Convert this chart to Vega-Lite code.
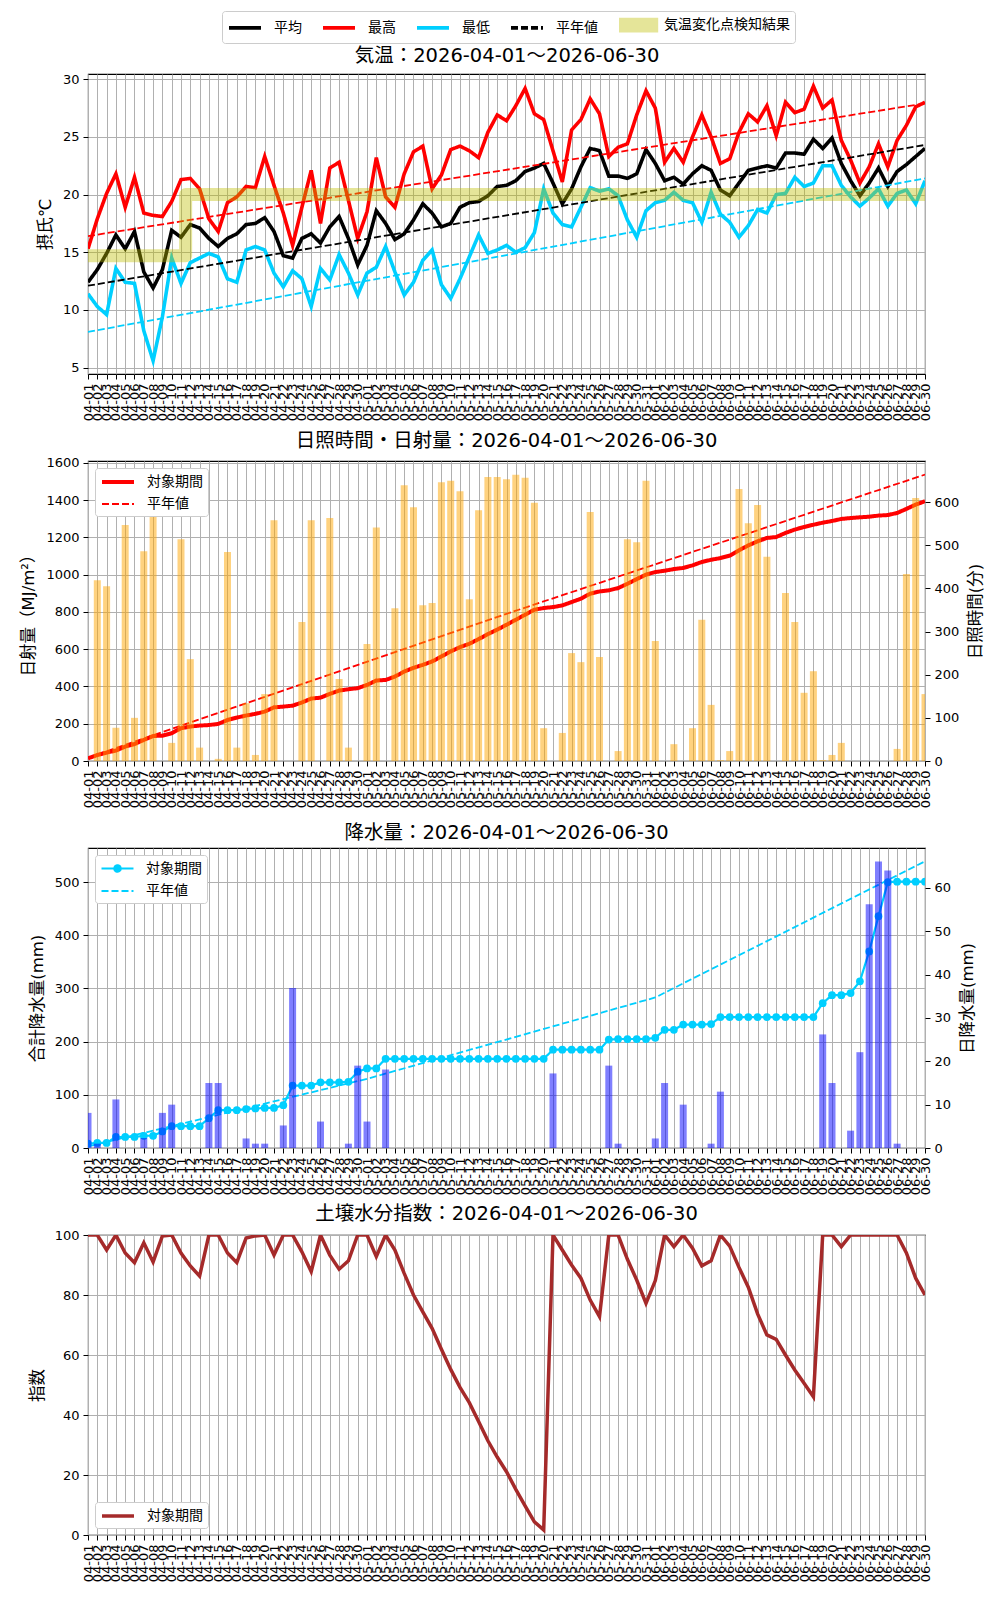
{
"$schema": "https://vega.github.io/schema/vega-lite/v6.json",
"background": "white",
"padding": {"left": 20, "top": 9, "right": 5, "bottom": 5},
"config": {
  "font": "DejaVu Sans, Noto Sans CJK JP",
  "view": {"stroke": "#000000", "strokeWidth": 1.1},
  "axis": {"labelFontSize": 13, "titleFontSize": 16.5, "titleFontWeight": "normal", "labelColor": "#000000", "titleColor": "#000000", "tickColor": "#000000", "tickSize": 5, "tickWidth": 1, "domain": false, "gridColor": "#b0b0b0", "gridWidth": 1, "gridOpacity": 1, "labelPadding": 4, "titlePadding": 9},
  "legend": {"labelFontSize": 14, "labelColor": "#000000", "fillColor": "#ffffff", "strokeColor": "#cccccc", "cornerRadius": 3, "padding": 5, "rowPadding": 6, "offset": 7},
  "title": {"fontSize": 19.5, "fontWeight": "normal", "color": "#000000", "offset": 5, "frame": "group"}
},
"datasets": {
  "days": [
{"d":"04-01","期間":"対象期間","平均":12.4,"最高":15.3,"最低":11.4,"sun":0,"rad":14,"prcp":8.1,"cprcp":8.1,"soil":100},
{"d":"04-02","期間":"対象期間","平均":13.5,"最高":17.9,"最低":10.3,"sun":419,"rad":32,"prcp":1.0,"cprcp":9.5,"soil":100},
{"d":"04-03","期間":"対象期間","平均":14.9,"最高":20.1,"最低":9.6,"sun":405,"rad":45,"prcp":0,"cprcp":9.5,"soil":95},
{"d":"04-04","期間":"対象期間","平均":16.5,"最高":21.8,"最低":13.6,"sun":77,"rad":56,"prcp":11.2,"cprcp":20.7,"soil":100},
{"d":"04-05","期間":"対象期間","平均":15.3,"最高":18.9,"最低":12.4,"sun":547,"rad":77,"prcp":0,"cprcp":20.7,"soil":94},
{"d":"04-06","期間":"対象期間","平均":16.8,"最高":21.5,"最低":12.3,"sun":100,"rad":91,"prcp":0,"cprcp":20.7,"soil":90.8},
{"d":"04-07","期間":"対象期間","平均":13.3,"最高":18.4,"最低":8.2,"sun":486,"rad":113,"prcp":2.3,"cprcp":23.0,"soil":97.4},
{"d":"04-08","期間":"対象期間","平均":11.9,"最高":18.2,"最低":5.6,"sun":591,"rad":134,"prcp":0,"cprcp":23.0,"soil":91},
{"d":"04-09","期間":"対象期間","平均":13.5,"最高":18.1,"最低":9.4,"sun":0,"rad":136,"prcp":8.1,"cprcp":31.1,"soil":99.7},
{"d":"04-10","期間":"対象期間","平均":16.9,"最高":19.4,"最低":14.5,"sun":42,"rad":149,"prcp":10.0,"cprcp":41.1,"soil":100},
{"d":"04-11","期間":"対象期間","平均":16.3,"最高":21.3,"最低":12.3,"sun":514,"rad":176,"prcp":0,"cprcp":41.1,"soil":94},
{"d":"04-12","期間":"対象期間","平均":17.4,"最高":21.4,"最低":14.1,"sun":236,"rad":185,"prcp":0,"cprcp":41.1,"soil":89.7},
{"d":"04-13","期間":"対象期間","平均":17.1,"最高":20.5,"最低":14.5,"sun":31,"rad":190,"prcp":0,"cprcp":41.1,"soil":86.3},
{"d":"04-14","期間":"対象期間","平均":16.2,"最高":17.9,"最低":14.9,"sun":0,"rad":193,"prcp":15.0,"cprcp":56.1,"soil":100},
{"d":"04-15","期間":"対象期間","平均":15.5,"最高":16.8,"最低":14.6,"sun":5,"rad":199,"prcp":15.0,"cprcp":71.1,"soil":100},
{"d":"04-16","期間":"対象期間","平均":16.2,"最高":19.3,"最低":12.7,"sun":484,"rad":220,"prcp":0,"cprcp":71.1,"soil":94},
{"d":"04-17","期間":"対象期間","平均":16.6,"最高":19.8,"最低":12.4,"sun":31,"rad":233,"prcp":0,"cprcp":71.1,"soil":90.8},
{"d":"04-18","期間":"対象期間","平均":17.4,"最高":20.7,"最低":15.2,"sun":134,"rad":244,"prcp":2.2,"cprcp":73.3,"soil":99},
{"d":"04-19","期間":"対象期間","平均":17.5,"最高":20.6,"最低":15.5,"sun":14,"rad":253,"prcp":1.0,"cprcp":74.3,"soil":99.7},
{"d":"04-20","期間":"対象期間","平均":18.0,"最高":23.3,"最低":15.2,"sun":155,"rad":265,"prcp":1.0,"cprcp":75.3,"soil":100},
{"d":"04-21","期間":"対象期間","平均":16.8,"最高":20.8,"最低":13.2,"sun":558,"rad":288,"prcp":0,"cprcp":75.3,"soil":93.3},
{"d":"04-22","期間":"対象期間","平均":14.7,"最高":18.4,"最低":12.0,"sun":0,"rad":292,"prcp":5.2,"cprcp":80.5,"soil":100},
{"d":"04-23","期間":"対象期間","平均":14.5,"最高":15.6,"最低":13.4,"sun":0,"rad":297,"prcp":36.9,"cprcp":117.4,"soil":100},
{"d":"04-24","期間":"対象期間","平均":16.2,"最高":18.9,"最低":12.7,"sun":322,"rad":314,"prcp":0,"cprcp":117.4,"soil":94.4},
{"d":"04-25","期間":"対象期間","平均":16.6,"最高":22.1,"最低":10.3,"sun":558,"rad":335,"prcp":0,"cprcp":117.4,"soil":87.8},
{"d":"04-26","期間":"対象期間","平均":15.8,"最高":17.5,"最低":13.6,"sun":0,"rad":340,"prcp":6.1,"cprcp":123.5,"soil":100},
{"d":"04-27","期間":"対象期間","平均":17.2,"最高":22.3,"最低":12.6,"sun":563,"rad":360,"prcp":0,"cprcp":123.5,"soil":93.3},
{"d":"04-28","期間":"対象期間","平均":18.1,"最高":22.8,"最低":14.8,"sun":190,"rad":378,"prcp":0,"cprcp":123.5,"soil":88.6},
{"d":"04-29","期間":"対象期間","平均":16.2,"最高":19.5,"最低":13.2,"sun":31,"rad":385,"prcp":1.0,"cprcp":124.5,"soil":91.4},
{"d":"04-30","期間":"対象期間","平均":13.9,"最高":16.2,"最低":11.3,"sun":0,"rad":391,"prcp":19.0,"cprcp":143.5,"soil":100},
{"d":"05-01","期間":"対象期間","平均":15.6,"最高":18.5,"最低":13.2,"sun":271,"rad":408,"prcp":6.1,"cprcp":149.6,"soil":100},
{"d":"05-02","期間":"対象期間","平均":18.6,"最高":23.2,"最低":13.7,"sun":541,"rad":432,"prcp":0,"cprcp":149.6,"soil":92.8},
{"d":"05-03","期間":"対象期間","平均":17.5,"最高":19.8,"最低":15.5,"sun":0,"rad":435,"prcp":18.1,"cprcp":167.7,"soil":100},
{"d":"05-04","期間":"対象期間","平均":16.1,"最高":18.9,"最低":13.3,"sun":354,"rad":453,"prcp":0,"cprcp":167.7,"soil":95},
{"d":"05-05","期間":"対象期間","平均":16.6,"最高":21.8,"最低":11.3,"sun":639,"rad":480,"prcp":0,"cprcp":167.7,"soil":87.2},
{"d":"05-06","期間":"対象期間","平均":17.8,"最高":23.7,"最低":12.4,"sun":588,"rad":500,"prcp":0,"cprcp":167.7,"soil":80},
{"d":"05-07","期間":"対象期間","平均":19.2,"最高":24.2,"最低":14.3,"sun":361,"rad":516,"prcp":0,"cprcp":167.7,"soil":74.4},
{"d":"05-08","期間":"対象期間","平均":18.4,"最高":20.5,"最低":15.2,"sun":366,"rad":534,"prcp":0,"cprcp":167.7,"soil":68.9},
{"d":"05-09","期間":"対象期間","平均":17.2,"最高":21.7,"最低":12.2,"sun":646,"rad":561,"prcp":0,"cprcp":167.7,"soil":61.9},
{"d":"05-10","期間":"対象期間","平均":17.5,"最高":23.9,"最低":11.0,"sun":649,"rad":588,"prcp":0,"cprcp":167.7,"soil":55.2},
{"d":"05-11","期間":"対象期間","平均":18.9,"最高":24.2,"最低":12.7,"sun":625,"rad":611,"prcp":0,"cprcp":167.7,"soil":49.2},
{"d":"05-12","期間":"対象期間","平均":19.3,"最高":23.8,"最低":14.6,"sun":375,"rad":629,"prcp":0,"cprcp":167.7,"soil":44.1},
{"d":"05-13","期間":"対象期間","平均":19.4,"最高":23.2,"最低":16.5,"sun":581,"rad":654,"prcp":0,"cprcp":167.7,"soil":37.8},
{"d":"05-14","期間":"対象期間","平均":19.9,"最高":25.4,"最低":14.9,"sun":658,"rad":681,"prcp":0,"cprcp":167.7,"soil":31.4},
{"d":"05-15","期間":"対象期間","平均":20.7,"最高":26.9,"最低":15.2,"sun":658,"rad":705,"prcp":0,"cprcp":167.7,"soil":26},
{"d":"05-16","期間":"対象期間","平均":20.8,"最高":26.4,"最低":15.6,"sun":653,"rad":731,"prcp":0,"cprcp":167.7,"soil":21.1},
{"d":"05-17","期間":"対象期間","平均":21.2,"最高":27.7,"最低":15.0,"sun":663,"rad":758,"prcp":0,"cprcp":167.7,"soil":15.2},
{"d":"05-18","期間":"対象期間","平均":22.0,"最高":29.2,"最低":15.4,"sun":656,"rad":785,"prcp":0,"cprcp":167.7,"soil":9.7},
{"d":"05-19","期間":"対象期間","平均":22.3,"最高":27.0,"最低":16.7,"sun":598,"rad":812,"prcp":0,"cprcp":167.7,"soil":4.4},
{"d":"05-20","期間":"対象期間","平均":22.7,"最高":26.5,"最低":20.5,"sun":76,"rad":821,"prcp":0,"cprcp":167.7,"soil":1.7},
{"d":"05-21","期間":"対象期間","平均":21.0,"最高":23.8,"最低":18.4,"sun":0,"rad":826,"prcp":17.2,"cprcp":184.9,"soil":100},
{"d":"05-22","期間":"対象期間","平均":19.2,"最高":21.1,"最低":17.4,"sun":65,"rad":835,"prcp":0,"cprcp":184.9,"soil":95},
{"d":"05-23","期間":"対象期間","平均":20.5,"最高":25.6,"最低":17.2,"sun":250,"rad":853,"prcp":0,"cprcp":184.9,"soil":90},
{"d":"05-24","期間":"対象期間","平均":22.4,"最高":26.5,"最低":18.9,"sun":229,"rad":871,"prcp":0,"cprcp":184.9,"soil":85.6},
{"d":"05-25","期間":"対象期間","平均":24.0,"最高":28.3,"最低":20.6,"sun":577,"rad":898,"prcp":0,"cprcp":184.9,"soil":78.3},
{"d":"05-26","期間":"対象期間","平均":23.8,"最高":27.0,"最低":20.3,"sun":241,"rad":910,"prcp":0,"cprcp":184.9,"soil":72.8},
{"d":"05-27","期間":"対象期間","平均":21.6,"最高":23.3,"最低":20.5,"sun":0,"rad":916,"prcp":19.0,"cprcp":203.9,"soil":100},
{"d":"05-28","期間":"対象期間","平均":21.6,"最高":24.1,"最低":19.9,"sun":23,"rad":928,"prcp":1.0,"cprcp":204.9,"soil":100},
{"d":"05-29","期間":"対象期間","平均":21.4,"最高":24.4,"最低":17.8,"sun":514,"rad":951,"prcp":0,"cprcp":204.9,"soil":91.9},
{"d":"05-30","期間":"対象期間","平均":21.8,"最高":26.9,"最低":16.3,"sun":507,"rad":976,"prcp":0,"cprcp":204.9,"soil":85},
{"d":"05-31","期間":"対象期間","平均":23.9,"最高":29.0,"最低":18.6,"sun":649,"rad":1000,"prcp":0,"cprcp":204.9,"soil":77.2},
{"d":"06-01","期間":"対象期間","平均":22.7,"最高":27.5,"最低":19.3,"sun":278,"rad":1014,"prcp":2.2,"cprcp":207.1,"soil":84.8},
{"d":"06-02","期間":"対象期間","平均":21.2,"最高":22.8,"最低":19.5,"sun":0,"rad":1021,"prcp":15.0,"cprcp":222.1,"soil":100},
{"d":"06-03","期間":"対象期間","平均":21.5,"最高":24.0,"最低":20.2,"sun":39,"rad":1030,"prcp":0,"cprcp":222.1,"soil":96.1},
{"d":"06-04","期間":"対象期間","平均":20.9,"最高":22.8,"最低":19.5,"sun":0,"rad":1036,"prcp":10.0,"cprcp":232.1,"soil":100},
{"d":"06-05","期間":"対象期間","平均":21.8,"最高":25.0,"最低":19.3,"sun":76,"rad":1050,"prcp":0,"cprcp":232.1,"soil":95.6},
{"d":"06-06","期間":"対象期間","平均":22.5,"最高":26.9,"最低":17.6,"sun":327,"rad":1068,"prcp":0,"cprcp":232.1,"soil":89.7},
{"d":"06-07","期間":"対象期間","平均":22.1,"最高":25.0,"最低":20.2,"sun":130,"rad":1080,"prcp":1.0,"cprcp":233.1,"soil":91.4},
{"d":"06-08","期間":"対象期間","平均":20.4,"最高":22.7,"最低":18.3,"sun":2,"rad":1089,"prcp":13.0,"cprcp":246.1,"soil":100},
{"d":"06-09","期間":"対象期間","平均":19.9,"最高":23.1,"最低":17.6,"sun":23,"rad":1102,"prcp":0,"cprcp":246.1,"soil":96.3},
{"d":"06-10","期間":"対象期間","平均":21.0,"最高":25.4,"最低":16.3,"sun":630,"rad":1131,"prcp":0,"cprcp":246.1,"soil":89.2},
{"d":"06-11","期間":"対象期間","平均":22.1,"最高":27.0,"最低":17.3,"sun":551,"rad":1157,"prcp":0,"cprcp":246.1,"soil":82.6},
{"d":"06-12","期間":"対象期間","平均":22.3,"最高":26.3,"最低":18.7,"sun":593,"rad":1179,"prcp":0,"cprcp":246.1,"soil":73.7},
{"d":"06-13","期間":"対象期間","平均":22.5,"最高":27.7,"最低":18.4,"sun":473,"rad":1197,"prcp":0,"cprcp":246.1,"soil":66.7},
{"d":"06-14","期間":"対象期間","平均":22.3,"最高":25.1,"最低":20.0,"sun":0,"rad":1202,"prcp":0,"cprcp":246.1,"soil":65.2},
{"d":"06-15","期間":"対象期間","平均":23.6,"最高":28.0,"最低":20.1,"sun":389,"rad":1224,"prcp":0,"cprcp":246.1,"soil":60},
{"d":"06-16","期間":"対象期間","平均":23.6,"最高":27.1,"最低":21.5,"sun":322,"rad":1242,"prcp":0,"cprcp":246.1,"soil":55},
{"d":"06-17","期間":"対象期間","平均":23.5,"最高":27.4,"最低":20.7,"sun":158,"rad":1256,"prcp":0,"cprcp":246.1,"soil":50.6},
{"d":"06-18","期間":"対象期間","平均":24.8,"最高":29.4,"最低":21.0,"sun":208,"rad":1268,"prcp":0,"cprcp":246.1,"soil":46.1},
{"d":"06-19","期間":"対象期間","平均":24.0,"最高":27.5,"最低":22.5,"sun":2,"rad":1279,"prcp":26.2,"cprcp":272.3,"soil":100},
{"d":"06-20","期間":"対象期間","平均":24.9,"最高":28.2,"最低":22.5,"sun":14,"rad":1288,"prcp":15.0,"cprcp":287.3,"soil":100},
{"d":"06-21","期間":"対象期間","平均":22.7,"最高":24.7,"最低":20.8,"sun":42,"rad":1299,"prcp":0,"cprcp":287.3,"soil":96.1},
{"d":"06-22","期間":"対象期間","平均":21.2,"最高":23.0,"最低":19.8,"sun":0,"rad":1304,"prcp":4.0,"cprcp":291.3,"soil":100},
{"d":"06-23","期間":"対象期間","平均":19.9,"最高":21.0,"最低":19.0,"sun":0,"rad":1308,"prcp":22.1,"cprcp":313.4,"soil":100},
{"d":"06-24","期間":"対象期間","平均":21.0,"最高":22.4,"最低":19.7,"sun":0,"rad":1311,"prcp":56.2,"cprcp":369.6,"soil":100},
{"d":"06-25","期間":"対象期間","平均":22.3,"最高":24.4,"最低":20.5,"sun":0,"rad":1317,"prcp":66.1,"cprcp":435.7,"soil":100},
{"d":"06-26","期間":"対象期間","平均":20.7,"最高":22.4,"最低":19.0,"sun":0,"rad":1320,"prcp":64.0,"cprcp":499.7,"soil":100},
{"d":"06-27","期間":"対象期間","平均":22.0,"最高":24.7,"最低":20.1,"sun":28,"rad":1331,"prcp":1.0,"cprcp":500.7,"soil":100},
{"d":"06-28","期間":"対象期間","平均":22.6,"最高":26.0,"最低":20.4,"sun":433,"rad":1353,"prcp":0,"cprcp":500.7,"soil":94},
{"d":"06-29","期間":"対象期間","平均":23.3,"最高":27.6,"最低":19.2,"sun":609,"rad":1376,"prcp":0,"cprcp":500.7,"soil":85.6},
{"d":"06-30","期間":"対象期間","平均":24.0,"最高":28.0,"最低":21.2,"sun":155,"rad":1394,"prcp":0,"cprcp":500.7,"soil":80}
  ],
  "tn": [
    {"d":"04-01","系列":"最高","v":16.4},{"d":"06-30","系列":"最高","v":27.9},
    {"d":"04-01","系列":"平均","v":12.1},{"d":"06-30","系列":"平均","v":24.3},
    {"d":"04-01","系列":"最低","v":8.1},{"d":"06-30","系列":"最低","v":21.4}
  ],
  "band": [
    {"d":"04-01","v":14.7},
    {"d":"04-11","v":14.7},
    {"d":"04-12","v":20.0},
    {"d":"06-30","v":20.0}
  ],
  "rn": [
    {"d":"04-01","期間":"平年値","v":18},
    {"d":"05-16","期間":"平年値","v":790},
    {"d":"06-30","期間":"平年値","v":1537}
  ],
  "pn": [
    {"d":"04-01","期間":"平年値","v":3},
    {"d":"05-01","期間":"平年値","v":130},
    {"d":"06-01","期間":"平年値","v":283},
    {"d":"06-30","期間":"平年値","v":539}
  ],
  "none": []
},
"spacing": 87,
"bounds": "flush",
"resolve": {"scale": {"color": "independent", "strokeDash": "independent", "strokeWidth": "independent", "shape": "independent"}, "legend": {"color": "independent", "strokeDash": "independent", "strokeWidth": "independent", "shape": "independent"}},
"vconcat": [
{
  "width": 837, "height": 300,
  "layer": [
    {
      "data": {"name": "days"},
      "transform": [{"fold": ["平均", "最高", "最低"], "as": ["系列", "気温"]}],
      "mark": {"type": "line", "clip": true},
      "encoding": {
        "x": {"field": "d", "type": "ordinal", "scale": {"type": "point", "padding": 0}, "axis": {"orient": "bottom", "title": null, "labelAngle": -90, "labelOverlap": false, "grid": true}},
        "y": {"field": "気温", "type": "quantitative", "scale": {"domain": [4.45, 30.45], "nice": false, "zero": false}, "axis": {"title": "摂氏℃", "values": [5, 10, 15, 20, 25, 30], "grid": true}},
        "color": {"field": "系列", "type": "nominal",
          "scale": {"domain": ["平均", "最高", "最低", "平年値", "気温変化点検知結果"], "range": ["#000000", "#ff0000", "#00cfff", "#000000", "#e5e599"]},
          "legend": {"title": null, "orient": "none", "legendX": 134, "legendY": -63, "direction": "horizontal", "columns": 5, "gridAlign": "each", "columnPadding": 13, "symbolType": "M-1,0H3.57", "symbolSize": 196, "labelOffset": 29, "symbolOpacity": 1}
        },
        "strokeDash": {"field": "系列", "type": "nominal",
          "scale": {"domain": ["平均", "最高", "最低", "平年値", "気温変化点検知結果"], "range": [[1, 0], [1, 0], [1, 0], [7, 3], [1, 0]]},
          "legend": {"title": null, "orient": "none", "legendX": 134, "legendY": -63, "direction": "horizontal", "columns": 5, "gridAlign": "each", "columnPadding": 13, "symbolType": "M-1,0H3.57", "symbolSize": 196, "labelOffset": 29, "symbolOpacity": 1}
        },
        "strokeWidth": {"field": "系列", "type": "nominal",
          "scale": {"domain": ["平均", "最高", "最低", "平年値", "気温変化点検知結果"], "range": [3.6, 3.6, 3.6, 2, 3.2]},
          "legend": {"title": null, "orient": "none", "legendX": 134, "legendY": -63, "direction": "horizontal", "columns": 5, "gridAlign": "each", "columnPadding": 13, "symbolType": "M-1,0H3.57", "symbolSize": 196, "labelOffset": 29, "symbolOpacity": 1}
        }
      }
    },
    {
      "data": {"name": "none"},
      "mark": {"type": "point", "opacity": 1, "clip": true},
      "encoding": {
        "x": {"field": "d", "type": "ordinal", "scale": {"type": "point", "padding": 0}, "axis": null},
        "y": {"field": "v", "type": "quantitative", "scale": {"domain": [4.45, 30.45], "nice": false, "zero": false}, "axis": {"title": "摂氏℃", "values": [5, 10, 15, 20, 25, 30], "grid": true}},
        "shape": {"field": "系列", "type": "nominal",
          "scale": {"domain": ["平均", "最高", "最低", "平年値", "気温変化点検知結果"], "range": ["M-1,0H3.57", "M-1,0H3.57", "M-1,0H3.57", "M-1,0H3.57", "M-1,-0.8H4.6M-1,-0.4H4.6M-1,0H4.6M-1,0.4H4.6M-1,0.8H4.6"]},
          "legend": {"title": null, "orient": "none", "legendX": 134, "legendY": -63, "direction": "horizontal", "columns": 5, "gridAlign": "each", "columnPadding": 13, "symbolType": "M-1,0H3.57", "symbolSize": 196, "labelOffset": 29, "symbolOpacity": 1}
        }
      }
    },
    {
      "data": {"name": "tn"},
      "mark": {"type": "line", "strokeWidth": 1.8, "strokeDash": [7, 3], "clip": true},
      "encoding": {
        "x": {"field": "d", "type": "ordinal", "scale": {"type": "point", "padding": 0}, "axis": null},
        "y": {"field": "v", "type": "quantitative", "scale": {"domain": [4.45, 30.45], "nice": false, "zero": false}, "axis": {"title": "摂氏℃", "values": [5, 10, 15, 20, 25, 30], "grid": true}},
        "color": {"field": "系列", "type": "nominal", "scale": {"domain": ["平均", "最高", "最低", "平年値", "気温変化点検知結果"], "range": ["#000000", "#ff0000", "#00cfff", "#000000", "#e5e599"]}}
      }
    },
    {
      "data": {"name": "band"},
      "mark": {"type": "line", "interpolate": "step", "strokeWidth": 13, "color": "#bfbf00", "opacity": 0.4, "strokeJoin": "round", "clip": true},
      "encoding": {
        "x": {"field": "d", "type": "ordinal", "scale": {"type": "point", "padding": 0}, "axis": {"orient": "top", "title": "気温：2026-04-01～2026-06-30", "labels": false, "ticks": false, "domain": false, "grid": false, "titleFontSize": 19.5, "titlePadding": 9}},
        "y": {"field": "v", "type": "quantitative", "scale": {"domain": [4.45, 30.45], "nice": false, "zero": false}, "axis": {"title": "摂氏℃", "values": [5, 10, 15, 20, 25, 30], "grid": true}}
      }
    }
  ],
  "resolve": {"axis": {"x": "independent"}}
},
{
  "width": 837, "height": 300,
  "title": {"text": "日照時間・日射量：2026-04-01～2026-06-30"},
  "layer": [
    {
      "layer": [
        {
          "data": {"name": "days"},
          "mark": {"type": "line", "clip": true},
          "encoding": {
            "x": {"field": "d", "type": "ordinal", "scale": {"type": "point", "padding": 0}, "axis": {"title": null, "labelAngle": -90, "labelOverlap": false, "grid": true}},
            "y": {"field": "rad", "type": "quantitative", "scale": {"domain": [0, 1610], "nice": false}, "axis": {"orient": "left", "title": "日射量（MJ/m²）", "format": "d", "values": [0, 200, 400, 600, 800, 1000, 1200, 1400, 1600], "grid": true}},
            "color": {"field": "期間", "type": "nominal", "scale": {"domain": ["対象期間", "平年値"], "range": ["#ff0000", "#ff0000"]},
              "legend": {"title": null, "orient": "top-left", "offset": 7, "symbolType": "M-1,0H3.57", "symbolSize": 196, "labelOffset": 29}},
            "strokeDash": {"field": "期間", "type": "nominal", "scale": {"domain": ["対象期間", "平年値"], "range": [[1, 0], [7, 3]]},
              "legend": {"title": null, "orient": "top-left", "offset": 7, "symbolType": "M-1,0H3.57", "symbolSize": 196, "labelOffset": 29}},
            "strokeWidth": {"field": "期間", "type": "nominal", "scale": {"domain": ["対象期間", "平年値"], "range": [4, 1.8]},
              "legend": {"title": null, "orient": "top-left", "offset": 7, "symbolType": "M-1,0H3.57", "symbolSize": 196, "labelOffset": 29}}
          }
        },
        {
          "data": {"name": "rn"},
          "mark": {"type": "line", "clip": true},
          "encoding": {
            "x": {"field": "d", "type": "ordinal", "scale": {"type": "point", "padding": 0}, "axis": {"title": null, "labelAngle": -90, "labelOverlap": false, "grid": true}},
            "y": {"field": "v", "type": "quantitative", "scale": {"domain": [0, 1610], "nice": false}, "axis": {"orient": "left", "title": "日射量（MJ/m²）", "format": "d", "values": [0, 200, 400, 600, 800, 1000, 1200, 1400, 1600], "grid": true}},
            "color": {"field": "期間", "type": "nominal", "scale": {"domain": ["対象期間", "平年値"], "range": ["#ff0000", "#ff0000"]}},
            "strokeDash": {"field": "期間", "type": "nominal", "scale": {"domain": ["対象期間", "平年値"], "range": [[1, 0], [7, 3]]}},
            "strokeWidth": {"field": "期間", "type": "nominal", "scale": {"domain": ["対象期間", "平年値"], "range": [4, 1.8]}}
          }
        }
      ]
    },
    {
      "data": {"name": "days"},
      "mark": {"type": "bar", "width": 7, "color": "#ffa500", "opacity": 0.5, "clip": true},
      "encoding": {
        "x": {"field": "d", "type": "ordinal", "scale": {"type": "point", "padding": 0}, "axis": {"title": null, "labelAngle": -90, "labelOverlap": false, "grid": true}},
        "y": {"field": "sun", "type": "quantitative", "scale": {"domain": [0, 695], "nice": false}, "axis": {"orient": "right", "title": "日照時間(分)", "titleAngle": 270, "titleBaseline": "top", "values": [0, 100, 200, 300, 400, 500, 600], "grid": false}}
      }
    }
  ],
  "resolve": {"scale": {"y": "independent"}}
},
{
  "width": 837, "height": 300,
  "title": {"text": "降水量：2026-04-01～2026-06-30"},
  "layer": [
    {
      "layer": [
        {
          "data": {"name": "days"},
          "mark": {"type": "line", "clip": true},
          "encoding": {
            "x": {"field": "d", "type": "ordinal", "scale": {"type": "point", "padding": 0}, "axis": {"title": null, "labelAngle": -90, "labelOverlap": false, "grid": true}},
            "y": {"field": "cprcp", "type": "quantitative", "scale": {"domain": [0, 564], "nice": false}, "axis": {"orient": "left", "title": "合計降水量(mm)", "values": [0, 100, 200, 300, 400, 500], "grid": true}},
            "color": {"field": "期間", "type": "nominal", "scale": {"domain": ["対象期間", "平年値"], "range": ["#00cfff", "#00cfff"]},
              "legend": {"title": null, "orient": "top-left", "offset": 7, "symbolType": "M-1,0H3.57", "symbolSize": 196, "labelOffset": 29, "symbolOpacity": 1}},
            "strokeDash": {"field": "期間", "type": "nominal", "scale": {"domain": ["対象期間", "平年値"], "range": [[1, 0], [7, 3]]},
              "legend": {"title": null, "orient": "top-left", "offset": 7, "symbolType": "M-1,0H3.57", "symbolSize": 196, "labelOffset": 29, "symbolOpacity": 1}},
            "strokeWidth": {"field": "期間", "type": "nominal", "scale": {"domain": ["対象期間", "平年値"], "range": [2.2, 1.8]},
              "legend": {"title": null, "orient": "top-left", "offset": 7, "symbolType": "M-1,0H3.57", "symbolSize": 196, "labelOffset": 29, "symbolOpacity": 1}}
          }
        },
        {
          "data": {"name": "none"},
          "mark": {"type": "point", "opacity": 1, "clip": true},
          "encoding": {
            "x": {"field": "d", "type": "ordinal", "scale": {"type": "point", "padding": 0}, "axis": {"title": null, "labelAngle": -90, "labelOverlap": false, "grid": true}},
            "y": {"field": "v", "type": "quantitative", "scale": {"domain": [0, 564], "nice": false}, "axis": {"orient": "left", "title": "合計降水量(mm)", "values": [0, 100, 200, 300, 400, 500], "grid": true}},
            "shape": {"field": "期間", "type": "nominal",
              "scale": {"domain": ["対象期間", "平年値"], "range": ["M-1,0H3.57M1.735,0A0.45,0.45,0,1,1,0.835,0A0.45,0.45,0,1,1,1.735,0M1.535,0A0.25,0.25,0,1,1,1.035,0A0.25,0.25,0,1,1,1.535,0M1.365,0A0.08,0.08,0,1,1,1.205,0A0.08,0.08,0,1,1,1.365,0", "M-1,0H3.57"]},
              "legend": {"title": null, "orient": "top-left", "offset": 7, "symbolType": "M-1,0H3.57", "symbolSize": 196, "labelOffset": 29, "symbolOpacity": 1}}
          }
        },
        {
          "data": {"name": "days"},
          "mark": {"type": "point", "filled": true, "size": 60, "opacity": 1, "color": "#00cfff", "clip": true},
          "encoding": {
            "x": {"field": "d", "type": "ordinal", "scale": {"type": "point", "padding": 0}, "axis": {"title": null, "labelAngle": -90, "labelOverlap": false, "grid": true}},
            "y": {"field": "cprcp", "type": "quantitative", "scale": {"domain": [0, 564], "nice": false}, "axis": {"orient": "left", "title": "合計降水量(mm)", "values": [0, 100, 200, 300, 400, 500], "grid": true}}
          }
        },
        {
          "data": {"name": "pn"},
          "mark": {"type": "line", "clip": true},
          "encoding": {
            "x": {"field": "d", "type": "ordinal", "scale": {"type": "point", "padding": 0}, "axis": {"title": null, "labelAngle": -90, "labelOverlap": false, "grid": true}},
            "y": {"field": "v", "type": "quantitative", "scale": {"domain": [0, 564], "nice": false}, "axis": {"orient": "left", "title": "合計降水量(mm)", "values": [0, 100, 200, 300, 400, 500], "grid": true}},
            "color": {"field": "期間", "type": "nominal", "scale": {"domain": ["対象期間", "平年値"], "range": ["#00cfff", "#00cfff"]}},
            "strokeDash": {"field": "期間", "type": "nominal", "scale": {"domain": ["対象期間", "平年値"], "range": [[1, 0], [7, 3]]}},
            "strokeWidth": {"field": "期間", "type": "nominal", "scale": {"domain": ["対象期間", "平年値"], "range": [2.2, 1.8]}}
          }
        }
      ]
    },
    {
      "data": {"name": "days"},
      "mark": {"type": "bar", "width": 7, "color": "#0000ff", "opacity": 0.5, "clip": true},
      "encoding": {
        "x": {"field": "d", "type": "ordinal", "scale": {"type": "point", "padding": 0}, "axis": {"title": null, "labelAngle": -90, "labelOverlap": false, "grid": true}},
        "y": {"field": "prcp", "type": "quantitative", "scale": {"domain": [0, 69.2], "nice": false}, "axis": {"orient": "right", "title": "日降水量(mm)", "titleAngle": 270, "titleBaseline": "top", "values": [0, 10, 20, 30, 40, 50, 60], "grid": false}}
      }
    }
  ],
  "resolve": {"scale": {"y": "independent"}}
},
{
  "width": 837, "height": 300,
  "title": {"text": "土壌水分指数：2026-04-01～2026-06-30"},
  "data": {"name": "days"},
  "mark": {"type": "line", "strokeWidth": 3.5, "clip": true},
  "encoding": {
    "x": {"field": "d", "type": "ordinal", "scale": {"type": "point", "padding": 0}, "axis": {"title": null, "labelAngle": -90, "labelOverlap": false, "grid": true}},
    "y": {"field": "soil", "type": "quantitative", "scale": {"domain": [0, 100], "nice": false}, "axis": {"title": "指数", "values": [0, 20, 40, 60, 80, 100], "grid": true}},
    "color": {"field": "期間", "type": "nominal", "scale": {"domain": ["対象期間"], "range": ["#a52a2a"]},
      "legend": {"title": null, "orient": "bottom-left", "offset": 7, "symbolType": "M-1,0H3.57", "symbolSize": 196, "symbolStrokeWidth": 3.5, "labelOffset": 29}
    }
  }
}
]
}
